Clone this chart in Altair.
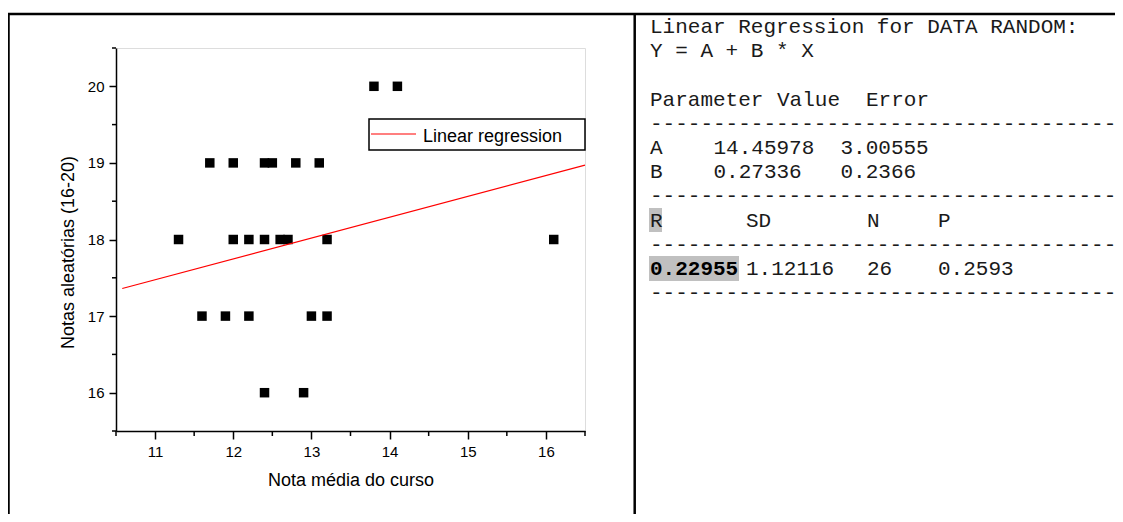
import altair as alt
import pandas as pd

# ---------------- data ----------------
pts_x = [13.8, 14.1, 11.7, 12.0, 12.4, 12.5, 12.8, 13.1, 11.3, 12.0, 12.2, 12.4,
         12.6, 12.7, 13.2, 16.1, 11.6, 11.9, 12.2, 13.0, 13.2, 12.4, 12.9]
pts_y = [20, 20, 19, 19, 19, 19, 19, 19, 18, 18, 18, 18,
         18, 18, 18, 18, 17, 17, 17, 17, 17, 16, 16]
reg_x = [10.58, 16.5]
reg_y = [17.36, 18.97]
x_major = [11, 12, 13, 14, 15, 16]
x_minor = [10.5, 11.5, 12.5, 13.5, 14.5, 15.5, 16.5]
y_major = [16, 17, 18, 19, 20]
y_minor = [15.5, 16.5, 17.5, 18.5, 19.5, 20.5]

report_title = "Linear Regression for DATA RANDOM:"
report_eq = "Y = A + B * X"
param_header = ["Parameter", "Value", "Error"]
param_names = ["A", "B"]
param_values = ["14.45978", "0.27336"]
param_errors = ["3.00555", "0.2366"]
stat_header = ["R", "SD", "N", "P"]
stat_values = ["0.22955", "1.12116", "26", "0.2593"]
legend_label = "Linear regression"

pts = pd.DataFrame({"x": pts_x, "y": pts_y})
reg = pd.DataFrame({"x": reg_x, "y": reg_y})
one = pd.DataFrame({"k": [0]})

SANS = "Liberation Sans"
MONO = "Liberation Mono"
W, H = 469, 383
PL, PT = 108, 40
CW, CH = 1107, 506

xs = alt.Scale(domain=[10.5, 16.5], nice=False, zero=False)
ys = alt.Scale(domain=[15.5, 20.5], nice=False, zero=False)

points = alt.Chart(pts).mark_square(size=90, color="black", opacity=1).encode(
    x=alt.X("x:Q", scale=xs, axis=alt.Axis(
        values=x_major, format="d", grid=False, tickSize=8, labelPadding=5,
        labelFontSize=15, labelFont=SANS, labelColor="black",
        domainColor="black", domainWidth=1.5, tickColor="black", tickWidth=1.5,
        title="Nota média do curso", titleFontSize=18, titleFontWeight="normal",
        titleFont=SANS, titleColor="black",
        titleY=54, titleBaseline="alphabetic")),
    y=alt.Y("y:Q", scale=ys, axis=alt.Axis(
        values=y_major, format="d", grid=False, tickSize=7, labelPadding=5,
        labelFontSize=15, labelFont=SANS, labelColor="black",
        domainColor="black", domainWidth=1.5, tickColor="black", tickWidth=1.5,
        title="Notas aleatórias (16-20)", titleFontSize=18, titleFontWeight="normal",
        titleFont=SANS, titleColor="black",
        titleX=-48, titleY=204, titleAngle=270, titleBaseline="middle",
        titleAlign="center")),
)

line = alt.Chart(reg).mark_line(color="#ff0000", strokeWidth=1.2).encode(
    x=alt.X("x:Q", scale=xs), y=alt.Y("y:Q", scale=ys))

xminor = alt.Chart(pd.DataFrame({"v": x_minor})).mark_rule(color="black", strokeWidth=1.5).encode(
    x=alt.X("v:Q", scale=xs), y=alt.value(H), y2=alt.value(H + 5))
yminor = alt.Chart(pd.DataFrame({"v": y_minor})).mark_rule(color="black", strokeWidth=1.5).encode(
    y=alt.Y("v:Q", scale=ys), x=alt.value(0), x2=alt.value(-4))


def hrule(x1, x2, y, w):
    return alt.Chart(one).mark_rule(color="black", strokeWidth=w).encode(
        x=alt.value(x1), x2=alt.value(x2), y=alt.value(y))


def vrule(x, y1, y2, w):
    return alt.Chart(one).mark_rule(color="black", strokeWidth=w).encode(
        x=alt.value(x), y=alt.value(y1), y2=alt.value(y2))


def rect(x1, x2, y1, y2, **kw):
    return alt.Chart(one).mark_rect(**kw).encode(
        x=alt.value(x1), x2=alt.value(x2), y=alt.value(y1), y2=alt.value(y2))


def txt(s, x, y, font=MONO, size=21, weight="normal", color="#1a1a1a"):
    return alt.Chart(one).mark_text(
        text=s, align="left", baseline="alphabetic", font=font, fontSize=size,
        fontWeight=weight, color=color).encode(x=alt.value(x), y=alt.value(y))


frame = [
    hrule(-PL - 2, CW - PL + 2, -34, 2.5),
    vrule(-PL + 0.5, -35, CH - PT + 2, 2.5),
    vrule(518.7, -35, CH - PT + 2, 2.5),
]

legend = [
    rect(253, 469, 71, 102, fill="white", stroke="black", strokeWidth=1.5),
    alt.Chart(one).mark_rule(color="#ff0000", strokeWidth=1.2).encode(
        x=alt.value(255), x2=alt.value(300), y=alt.value(86)),
    txt(legend_label, 307, 94, font=SANS, size=18, color="black"),
]

# text panel
col0, col_val, col_err = 534, 597.5, 724.5
col_sd, col_n, col_p = 630, 751, 822
hdr_cols = [534, 661, 750]
dash = "-" * 40
rows = [-15, 9.2, 33.4, 57.6, 81.8, 106, 130.2, 154.4, 178.6, 202.8, 227, 251.2]

panel = [
    rect(533, 546, 160, 184, fill="#c0c0c0"),
    rect(533, 623, 208, 233, fill="#c0c0c0"),
    txt(report_title, col0, rows[0]),
    txt(report_eq, col0, rows[1]),
]
for s, cx in zip(param_header, hdr_cols):
    panel.append(txt(s, cx, rows[3]))
panel.append(txt(dash, col0, rows[4]))
for i in range(2):
    panel.append(txt(param_names[i], col0, rows[5 + i]))
    panel.append(txt(param_values[i], col_val, rows[5 + i]))
    panel.append(txt(param_errors[i], col_err, rows[5 + i]))
panel.append(txt(dash, col0, rows[7]))
stat_cols = [col0, col_sd, col_n, col_p]
for s, cx in zip(stat_header, stat_cols):
    panel.append(txt(s, cx, rows[8]))
panel.append(txt(dash, col0, rows[9]))
for j, (s, cx) in enumerate(zip(stat_values, stat_cols)):
    panel.append(txt(s, cx, rows[10], weight="bold" if j == 0 else "normal",
                     color="black" if j == 0 else "#1a1a1a"))
panel.append(txt(dash, col0, rows[11]))

chart = alt.layer(
    points, *frame, line, *legend, xminor, yminor, *panel
).properties(
    width=W, height=H,
    autosize=alt.AutoSizeParams(type="none"),
    padding={"left": PL, "top": PT, "right": CW - PL - W, "bottom": CH - PT - H},
).configure_view(stroke="transparent").configure(background="white")

chart.save("out.html", embed_options={"renderer": "svg", "actions": False})
